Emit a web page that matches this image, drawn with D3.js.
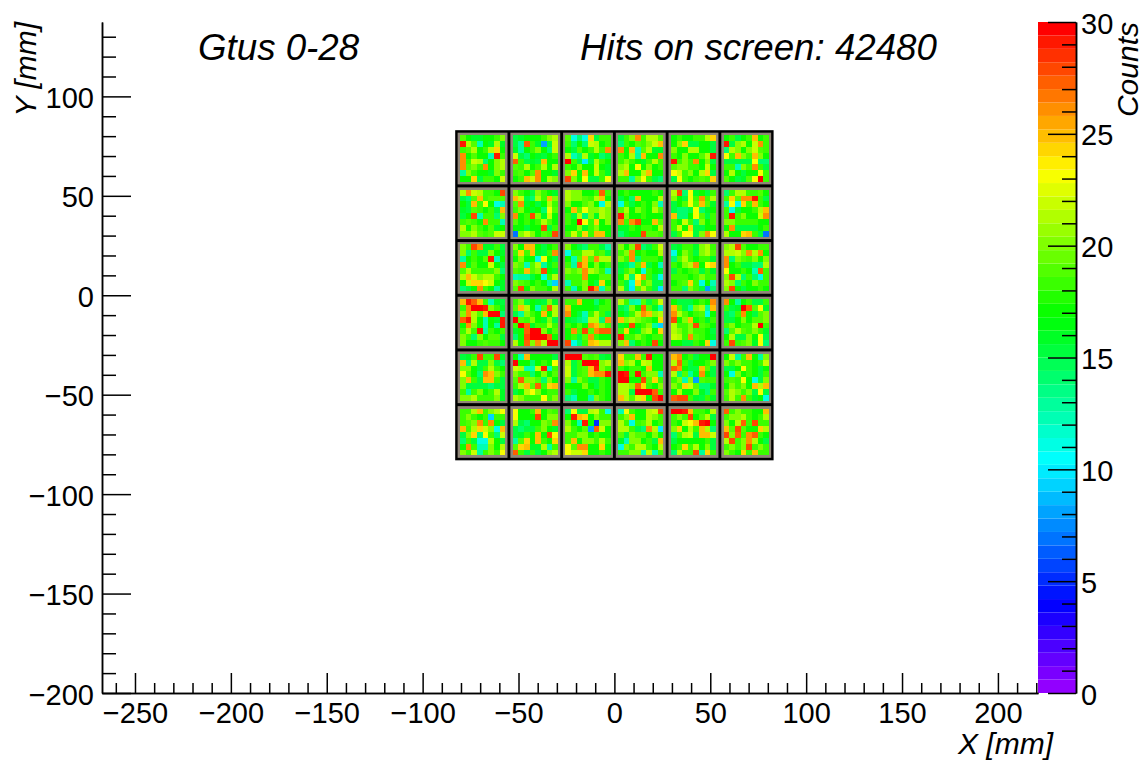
<!DOCTYPE html>
<html>
<head>
<meta charset="utf-8">
<script src="https://cdn.jsdelivr.net/npm/d3@7"></script>
<style>
  html, body { margin: 0; padding: 0; background: #fff; }
  text { font-family: "Liberation Sans", Arial, sans-serif; fill: #000; }
  .domain, .tick line { stroke: #000; stroke-width: 1.5px; }
  .tick text { font-size: 29px; }
  .title { font-size: 36.7px; font-style: italic; }
  .label { font-size: 30px; font-style: italic; }
</style>
</head>
<body>
<svg id="chart" width="1145" height="761"></svg>
<script>
const xTicks = [-250, -200, -150, -100, -50, 0, 50, 100, 150, 200];
const yTicks = [-200, -150, -100, -50, 0, 50, 100];
const zTicks = [0, 5, 10, 15, 20, 25, 30];
const xMinor = [-260, -240, -230, -220, -210, -190, -180, -170, -160, -140, -130, -120, -110, -90, -80, -70, -60, -40, -30, -20, -10, 10, 20, 30, 40, 60, 70, 80, 90, 110, 120, 130, 140, 160, 170, 180, 190, 210, 220];
const yMinor = [-190, -180, -170, -160, -140, -130, -120, -110, -90, -80, -70, -60, -40, -30, -20, -10, 10, 20, 30, 40, 60, 70, 80, 90, 110, 120, 130];
const zMinor = [1, 2, 3, 4, 6, 7, 8, 9, 11, 12, 13, 14, 16, 17, 18, 19, 21, 22, 23, 24, 26, 27, 28, 29];

// 6 x 6 modules of 8 x 8 pixels. Top row first, left to right
const moduleCounts = [
  // row 0
  [19,17,16,16,17,17,18,20, 29,21,19,12,17,16,21,16, 18,19,21,17,18,21,24,17, 26,17,19,17,17,12,29,18, 26,18,22,21,14,17,20,21, 26,19,20,18,26,17,20,21, 13,20,18,17,17,16,20,18, 17,17,24,15,18,18,17,22],
  [15,16,17,17,17,18,20,21, 15,13,27,18,16,8,15,22, 16,13,17,18,20,17,14,22, 22,15,14,17,16,15,17,18, 27,18,15,16,15,25,17,17, 19,18,21,17,18,21,17,21, 18,19,17,19,26,17,17,16, 17,18,25,22,26,17,21,20],
  [19,11,14,11,24,15,18,18, 18,14,17,14,22,21,17,18, 17,15,19,17,18,21,18,26, 21,12,14,21,16,17,14,15, 30,18,15,10,15,21,18,17, 18,17,20,17,17,22,17,16, 20,24,17,25,17,22,18,16, 28,20,17,23,15,15,18,23],
  [15,18,20,26,18,21,21,19, 14,18,17,19,18,20,22,25, 26,17,25,12,19,21,16,16, 18,17,21,13,25,17,17,26, 18,20,18,17,16,18,21,18, 20,21,17,23,17,20,17,18, 21,25,17,17,21,25,17,17, 18,18,13,20,23,18,15,14],
  [17,18,17,17,18,18,21,24, 17,20,24,15,15,17,17,15, 20,17,17,21,21,17,17,15, 18,17,20,17,17,19,21,29, 29,18,20,18,26,17,20,15, 19,20,20,18,18,17,22,17, 23,22,18,20,17,21,24,15, 15,23,18,17,18,19,18,24],
  [17,18,15,17,18,25,17,18, 29,15,20,21,17,22,26,18, 14,21,20,17,20,22,19,18, 23,18,25,20,18,25,20,17, 15,15,15,15,15,23,14,14, 18,18,12,20,18,26,18,15, 17,21,17,15,17,17,23,18, 19,17,15,16,19,23,30,18],
  // row 1
  [21,26,22,21,18,18,17,28, 15,14,19,25,18,19,19,19, 17,15,25,18,23,17,11,12, 16,15,19,18,17,18,15,25, 15,17,28,12,18,18,14,20, 18,19,18,17,26,18,18,12, 21,17,20,18,17,19,16,17, 20,20,21,19,18,19,22,22],
  [20,18,17,15,20,18,17,16, 25,22,15,14,21,18,25,20, 19,26,16,17,15,17,21,18, 18,20,17,16,17,14,23,19, 26,17,18,28,20,16,22,17, 19,17,18,17,18,21,19,17, 17,17,15,17,17,28,15,18, 7,20,22,20,17,19,18,28],
  [21,20,20,17,17,18,27,18, 21,20,20,19,18,21,25,17, 20,17,17,19,20,17,11,21, 17,25,19,23,20,20,21,20, 18,15,21,14,20,16,21,20, 18,17,30,23,18,24,17,20, 17,17,20,16,18,20,17,17, 18,22,18,24,18,25,25,17],
  [17,18,17,17,17,17,18,17, 15,17,14,25,17,17,17,21, 11,18,15,17,18,17,20,12, 19,21,17,20,18,17,21,19, 29,20,17,17,18,17,17,17, 26,18,26,28,17,17,25,19, 16,16,18,17,18,18,17,21, 14,16,17,17,28,19,19,18],
  [21,28,14,23,16,17,15,18, 20,17,15,23,18,26,18,21, 15,17,19,23,19,25,19,16, 15,14,14,15,23,14,16,17, 25,14,14,17,23,19,15,18, 18,17,22,18,14,20,17,18, 18,22,17,24,15,15,17,17, 15,18,23,23,15,20,26,23],
  [14,18,21,21,18,18,19,17, 18,24,19,26,26,29,18,15, 13,23,11,24,18,25,18,17, 18,11,15,17,17,18,21,25, 18,29,18,20,17,17,22,26, 20,20,18,18,18,18,17,17, 17,26,15,15,15,15,17,18, 21,17,17,24,25,18,15,7],
  // row 2
  [20,18,28,26,16,16,18,15, 20,14,18,15,15,20,17,16, 13,17,18,17,19,29,12,17, 26,16,19,17,17,22,17,15, 19,21,18,18,18,18,20,14, 21,25,22,20,21,21,18,17, 17,22,24,24,23,22,17,16, 14,15,17,26,18,17,13,16],
  [20,17,25,25,17,15,17,18, 18,24,18,25,16,15,18,26, 17,20,17,17,11,23,17,15, 20,19,12,19,21,13,16,18, 19,18,25,19,20,28,17,16, 12,13,13,15,17,11,18,21, 20,19,18,17,18,17,13,9, 19,28,17,20,18,18,17,21],
  [20,17,15,14,18,18,15,13, 11,18,18,21,21,18,19,15, 17,12,19,25,19,26,21,21, 18,13,27,25,17,20,17,18, 20,19,20,26,21,20,18,12, 18,18,18,26,17,17,19,19, 12,18,18,20,17,15,24,17, 18,12,17,20,29,26,12,19],
  [20,17,20,28,14,15,18,22, 18,20,26,17,18,17,17,21, 20,18,26,14,18,18,18,17, 16,15,13,19,25,15,17,12, 15,18,20,17,11,18,17,16, 17,21,14,23,26,18,15,11, 18,15,11,24,18,20,15,15, 21,15,10,19,21,18,15,10],
  [15,16,18,18,16,20,21,18, 11,17,20,18,15,20,21,19, 14,19,21,18,17,18,18,16, 18,17,20,21,26,17,23,24, 15,18,17,18,19,15,18,16, 18,18,18,17,18,20,18,18, 17,18,19,24,18,11,17,12, 18,18,14,20,18,15,8,14],
  [20,21,28,19,17,17,18,18, 21,21,22,20,26,21,26,17, 26,14,20,19,18,20,17,20, 26,17,18,15,15,14,14,21, 23,17,17,18,17,12,27,18, 20,28,21,14,18,14,11,18, 21,20,14,18,17,20,18,18, 20,28,17,15,17,17,18,17],
  // row 3
  [25,29,27,25,18,12,16,15, 18,26,30,30,29,20,18,16, 20,26,21,19,25,30,30,14, 27,29,21,17,12,17,16,29, 17,26,20,17,12,17,13,29, 18,21,18,29,13,18,17,18, 20,18,14,20,17,19,19,15, 20,17,17,18,19,18,18,17],
  [18,20,15,17,16,15,20,16, 19,25,21,17,12,19,27,21, 15,13,20,18,17,25,17,21, 30,19,18,20,17,16,20,15, 18,30,27,16,18,18,21,18, 16,17,27,30,30,20,17,19, 14,17,28,30,30,30,27,17, 21,17,27,20,26,21,30,30],
  [18,18,25,17,17,14,17,18, 25,17,17,17,17,16,18,18, 26,17,15,12,18,21,18,15, 16,15,14,13,21,21,14,26, 18,17,19,17,26,25,20,18, 17,26,18,28,19,26,27,27, 17,18,15,19,26,18,17,17, 28,11,14,18,25,24,21,21],
  [21,18,13,12,19,15,18,22, 15,14,20,17,27,19,16,12, 17,15,18,21,26,25,20,21, 25,20,21,20,19,18,17,24, 16,17,28,17,18,20,13,9, 18,24,17,16,20,21,17,24, 29,18,18,20,18,17,18,18, 20,25,14,17,18,17,28,17],
  [17,15,15,15,17,18,17,26, 25,19,15,13,20,21,13,25, 26,21,19,17,18,19,11,17, 28,17,20,25,17,18,16,18, 21,18,18,20,28,19,18,17, 21,20,18,20,18,18,17,15, 22,21,18,26,19,18,17,16, 17,17,15,15,18,17,24,11],
  [26,17,13,17,18,15,15,18, 18,15,16,30,27,19,23,16, 15,14,18,26,17,15,19,20, 15,15,17,20,17,19,19,20, 18,20,17,18,18,21,30,18, 14,19,21,19,18,20,18,16, 17,21,15,15,20,17,23,15, 18,28,18,19,20,16,23,14],
  // row 4
  [15,16,18,28,18,18,28,16, 25,14,21,15,15,20,15,14, 20,20,17,15,18,21,18,17, 23,19,17,14,26,25,20,18, 20,25,18,15,25,25,18,15, 20,15,15,15,15,14,15,15, 18,13,18,20,17,18,21,16, 20,20,21,18,18,18,20,16],
  [17,12,25,17,17,17,17,15, 30,17,17,14,17,18,17,23, 22,21,12,12,22,29,12,18, 20,18,18,14,17,20,17,19, 19,27,20,20,19,14,20,17, 18,21,25,19,27,18,24,25, 15,17,21,23,20,17,18,18, 21,20,18,18,18,23,18,20],
  [30,30,30,19,18,19,15,16, 21,15,18,30,30,30,20,21, 22,15,18,19,25,29,20,18, 22,15,18,19,25,26,26,29, 20,13,20,18,15,15,18,17, 17,17,17,20,17,15,18,17, 18,15,17,17,18,17,18,17, 14,12,17,17,13,20,18,17],
  [24,18,18,25,18,29,17,17, 25,20,21,17,22,21,17,17, 18,17,18,18,17,25,17,17, 30,29,18,29,18,20,20,12, 30,30,17,17,28,19,24,18, 21,21,20,27,24,18,17,20, 21,21,15,30,30,30,27,18, 25,21,19,22,24,17,28,30],
  [25,26,17,18,15,17,17,30, 21,27,18,15,17,17,18,20, 27,26,17,15,15,25,19,15, 21,14,19,13,16,26,17,15, 18,20,12,20,8,19,18,18, 20,18,24,22,19,14,14,16, 17,21,17,17,20,16,14,18, 27,28,28,18,16,15,18,16],
  [17,22,13,18,25,17,13,20, 20,18,20,18,18,17,18,22, 15,15,17,23,18,17,15,17, 17,11,20,17,18,17,15,18, 18,19,18,23,17,11,15,20, 17,20,18,20,17,25,21,25, 19,21,20,18,20,15,23,15, 18,21,18,26,18,16,17,11],
  // row 5
  [18,18,21,25,18,20,21,23, 18,20,18,17,18,9,18,18, 18,19,20,26,18,26,17,15, 25,18,21,24,22,20,11,25, 15,20,24,14,23,18,14,22, 14,18,15,11,11,21,17,15, 17,26,18,12,12,20,17,21, 20,18,22,13,18,20,18,23],
  [23,17,17,18,25,17,19,18, 23,17,17,17,28,17,20,20, 21,15,14,17,17,20,19,26, 15,14,15,15,18,20,17,16, 15,16,18,17,25,17,28,23, 13,19,24,17,25,18,17,24, 19,24,25,16,16,21,13,18, 27,18,15,18,15,17,20,21],
  [14,23,15,15,21,22,18,11, 17,29,25,24,17,20,18,18, 20,17,12,29,17,5,20,20, 21,18,17,19,8,27,22,17, 18,18,20,20,17,18,17,17, 18,25,17,20,20,18,21,18, 23,19,26,26,17,17,24,17, 23,22,22,24,17,17,18,17],
  [12,23,18,17,17,21,22,28, 18,20,25,17,17,21,20,18, 21,18,11,18,19,21,17,18, 21,21,18,15,14,26,21,10, 19,15,20,19,19,17,20,17, 16,12,20,20,17,18,15,25, 11,20,18,21,21,18,17,21, 18,18,20,20,12,21,12,18],
  [30,30,29,25,18,18,17,21, 18,20,18,28,17,19,21,15, 18,17,22,23,25,29,30,17, 20,24,17,21,18,25,21,14, 14,18,21,22,15,25,25,22, 15,17,17,17,17,17,18,15, 17,18,24,18,21,17,20,15, 14,21,18,18,28,13,24,18],
  [27,18,20,18,18,17,17,25, 18,20,20,21,18,17,18,21, 20,17,21,27,18,28,18,18, 25,19,28,19,17,17,24,21, 28,20,27,18,26,27,18,17, 21,28,18,20,26,21,17,15, 18,20,18,20,28,18,20,18, 20,18,17,24,18,25,18,18]
];

const modulePitch = 27.5; // mm
const pixelPitch = 2.95; // mm
const nLevels = 50;
const zMax = 30;

const svg = d3.select('#chart');

const x = d3.scaleLinear().domain([-267.2, 220.9]).range([102, 1038]);
const y = d3.scaleLinear().domain([-200, 137.4]).range([693, 22]);
const z = d3.scaleLinear().domain([0, zMax]).range([693, 22]);

// same rainbow as the ROOT palette 1: hue walks down from 280 to 0
const levels = d3.range(nLevels);
const levelColor = i => d3.hsl(280 - (i + 1) * 280 / nLevels, 1, 0.5).formatHex();
const colorOf = v => levelColor(Math.min(nLevels - 1, Math.floor(v / zMax * nLevels)));

// Modules
const modules = moduleCounts.map((counts, i) => ({
  counts,
  x0: -3 * modulePitch + (i % 6) * modulePitch,
  y0: 3 * modulePitch - Math.floor(i / 6) * modulePitch
}));

svg.append('rect')
  .attr('x', x(-82.5) - 1)
  .attr('y', y(82.5) - 1)
  .attr('width', x(82.5) - x(-82.5) + 2)
  .attr('height', y(-82.5) - y(82.5) + 2)
  .style('fill', '#000');

const moduleG = svg.selectAll('g.module')
  .data(modules)
  .enter().append('g')
  .attr('class', 'module');

moduleG.append('rect')
  .attr('x', d => x(d.x0 + 0.75))
  .attr('y', d => y(d.y0 - 0.75))
  .attr('width', x(modulePitch - 1.5) - x(0))
  .attr('height', y(0) - y(modulePitch - 1.5))
  .style('fill', '#8f8678');

moduleG.selectAll('rect.pixel')
  .data(d => d.counts.map((v, i) => ({
    v,
    px: d.x0 + (modulePitch - 8 * pixelPitch) / 2 + (i % 8) * pixelPitch,
    py: d.y0 - (modulePitch - 8 * pixelPitch) / 2 - Math.floor(i / 8) * pixelPitch
  })))
  .enter().append('rect')
  .attr('class', 'pixel')
  .attr('x', d => x(d.px))
  .attr('y', d => y(d.py))
  .attr('width', x(pixelPitch) - x(0))
  .attr('height', y(0) - y(pixelPitch))
  .attr('shape-rendering', 'crispEdges')
  .style('fill', d => colorOf(d.v));

// Colour bar
svg.selectAll('rect.level')
  .data(levels)
  .enter().append('rect')
  .attr('class', 'level')
  .attr('x', 1038)
  .attr('width', 38)
  .attr('y', i => z((i + 1) * zMax / nLevels))
  .attr('height', z(0) - z(zMax / nLevels))
  .style('fill', levelColor);

// Axes: major ticks carry the labels, minor ticks are half as long
const drawAxis = (axis, pos, major, minor, majorLen, minorLen, padding) => {
  const g = svg.append('g')
    .attr('transform', pos)
    .call(axis.tickValues(major).tickSize(-majorLen).tickSizeOuter(0).tickPadding(padding).tickFormat(d3.format('d')));
  svg.append('g')
    .attr('transform', pos)
    .call(axis.tickValues(minor).tickSize(-minorLen).tickSizeOuter(0).tickFormat(''));
  return g;
};

drawAxis(d3.axisBottom(x), 'translate(0,693)', xTicks, xMinor, 20, 10, 9);
drawAxis(d3.axisLeft(y), 'translate(102,0)', yTicks, yMinor, 29, 14, 8)
  .selectAll('text').attr('dy', '0.38em');
drawAxis(d3.axisRight(z), 'translate(1076,0)', zTicks, zMinor, 28, 14, 5)
  .selectAll('text').attr('dy', '0.38em');

// Titles
svg.append('text').attr('class', 'title').attr('x', 198).attr('y', 60).text('Gtus 0-28');
svg.append('text').attr('class', 'title').attr('x', 580).attr('y', 60).text('Hits on screen: 42480');

svg.append('text').attr('class', 'label')
  .attr('text-anchor', 'end').attr('x', 1053).attr('y', 754).text('X [mm]');
svg.append('text').attr('class', 'label')
  .attr('text-anchor', 'end').attr('transform', 'translate(36,22) rotate(-90)').text('Y [mm]');
svg.append('text').attr('class', 'label')
  .attr('text-anchor', 'end').attr('transform', 'translate(1138,22) rotate(-90)').text('Counts');
</script>
</body>
</html>
